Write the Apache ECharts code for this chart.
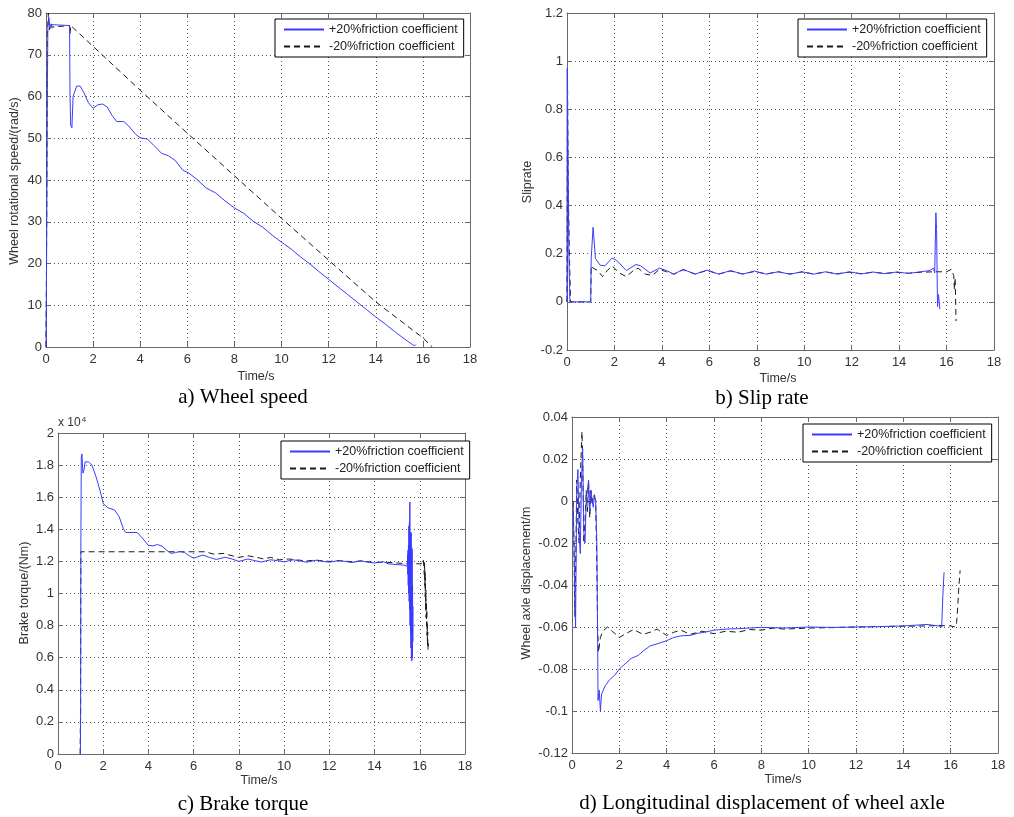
<!DOCTYPE html>
<html><head><meta charset="utf-8">
<script src="https://cdn.jsdelivr.net/npm/echarts@6/dist/echarts.min.js"></script>
<style>html,body{margin:0;padding:0;background:#fff}#c{width:1014px;height:817px}</style>
</head><body><div id="c"></div>
<script>
// ---------- data (time s, value) ----------
var legendNames = ['+20%friction coefficient', '-20%friction coefficient'];
var xTicks = [0, 2, 4, 6, 8, 10, 12, 14, 16, 18];

// a) Wheel speed (rad/s)
var speedPlus = [[0,0],[0.02,15],[0.05,55],[0.08,77],[0.12,79],[0.15,77],[0.2,76.3],[0.25,77.2],[0.3,77],[1.0,77],[1.02,60],[1.05,53],[1.1,52.5],[1.15,60],[1.3,62.5],[1.45,62.5],[1.6,61],[1.8,58.5],[2.0,57.2],[2.2,58],[2.4,58.2],[2.6,57.5],[2.8,55.5],[3.0,54],[3.3,54],[3.5,53],[3.8,51],[4.0,50.1],[4.3,49.8],[4.6,48.2],[4.9,46.4],[5.2,45.8],[5.5,44.6],[5.8,42.4],[6.1,41.5],[6.4,40.2],[6.8,38.1],[7.2,36.9],[7.6,35],[8.0,33.3],[8.4,32],[8.8,30.1],[9.2,28.7],[9.6,26.8],[10.0,25.1],[10.4,23.5],[10.8,21.6],[11.2,19.9],[11.6,18],[12.0,16.2],[12.4,14.4],[12.8,12.6],[13.2,10.8],[13.6,9],[14.0,7.2],[14.4,5.5],[14.8,3.7],[15.2,2],[15.55,0.6],[15.6,1],[15.65,0.3],[15.7,0.6]];
var speedMinus = [[0,0],[0.03,30],[0.06,75],[0.1,80],[0.14,76],[0.2,77.8],[0.25,76.6],[0.3,77],[1.0,77],[1.02,75],[1.05,77],[2,72],[4,61.5],[6,51.2],[8,41],[10,30.8],[12,20.8],[14,10.8],[16,2.2],[16.4,0]];

// b) Slip rate
var slipPlus = [[0,0],[0.01,0.97],[0.04,0.62],[0.08,0.2],[0.12,0],[1.0,0],[1.02,0.18],[1.1,0.31],[1.2,0.18],[1.4,0.152],[1.6,0.15],[1.9,0.182],[2.1,0.172],[2.5,0.13],[2.9,0.155],[3.1,0.15],[3.5,0.12],[3.9,0.14],[4.2,0.13],[4.5,0.115],[4.9,0.135],[5.4,0.115],[5.9,0.132],[6.4,0.115],[6.9,0.13],[7.4,0.115],[7.9,0.128],[8.4,0.115],[8.9,0.125],[9.4,0.115],[9.9,0.125],[10.4,0.115],[10.9,0.125],[11.4,0.115],[11.9,0.125],[12.4,0.116],[12.9,0.124],[13.4,0.117],[13.9,0.124],[14.4,0.118],[14.9,0.125],[15.3,0.13],[15.45,0.14],[15.5,0.12],[15.55,0.37],[15.58,0.3],[15.62,-0.02],[15.66,0.03],[15.72,-0.03]];
var slipMinus = [[0,0],[0.02,0.96],[0.05,0.5],[0.1,0.2],[0.15,0],[1.0,0],[1.02,0.15],[1.1,0.14],[1.3,0.13],[1.5,0.105],[1.7,0.13],[1.9,0.15],[2.2,0.12],[2.5,0.105],[2.8,0.13],[3.0,0.14],[3.3,0.115],[3.6,0.11],[3.9,0.135],[4.2,0.125],[4.5,0.115],[4.9,0.133],[5.4,0.116],[5.9,0.13],[6.4,0.116],[6.9,0.128],[7.4,0.116],[7.9,0.126],[8.4,0.116],[8.9,0.125],[9.4,0.116],[9.9,0.124],[10.4,0.116],[10.9,0.124],[11.4,0.117],[11.9,0.123],[12.4,0.117],[12.9,0.123],[13.4,0.118],[13.9,0.123],[14.4,0.119],[14.9,0.123],[15.5,0.125],[16.0,0.125],[16.2,0.135],[16.25,0.14],[16.3,0.11],[16.33,0.05],[16.36,0.1],[16.38,0.02],[16.4,-0.08]];

// c) Brake torque (x 10^4 Nm)
var torquePlus = [[0.99,0],[1.0,0.27],[1.01,1.25],[1.03,1.85],[1.06,1.87],[1.1,1.75],[1.15,1.77],[1.2,1.82],[1.35,1.82],[1.5,1.8],[1.7,1.72],[1.9,1.62],[2.0,1.56],[2.2,1.535],[2.5,1.52],[2.7,1.48],[2.9,1.4],[3.0,1.38],[3.5,1.38],[3.7,1.35],[4.0,1.3],[4.2,1.297],[4.4,1.305],[4.6,1.295],[4.8,1.27],[5.0,1.25],[5.2,1.255],[5.4,1.262],[5.6,1.255],[5.8,1.235],[6.0,1.22],[6.4,1.24],[6.7,1.225],[7.0,1.212],[7.4,1.226],[7.7,1.215],[8.0,1.2],[8.4,1.215],[8.7,1.205],[9.0,1.196],[9.4,1.21],[9.7,1.205],[10.0,1.197],[10.4,1.21],[10.7,1.203],[11.0,1.195],[11.4,1.207],[11.7,1.2],[12.0,1.195],[12.4,1.205],[12.7,1.2],[13.0,1.193],[13.4,1.203],[13.7,1.195],[14.0,1.19],[14.4,1.198],[14.6,1.185],[15.0,1.18],[15.3,1.177],[15.45,1.17],[15.46,1.24],[15.47,1.12],[15.48,1.27],[15.49,1.05],[15.5,1.3],[15.51,1.0],[15.52,1.42],[15.53,0.95],[15.54,1.44],[15.55,0.9],[15.56,1.57],[15.57,0.8],[15.58,1.38],[15.59,0.75],[15.6,1.3],[15.61,0.66],[15.62,1.38],[15.63,0.6],[15.64,1.25],[15.65,0.58],[15.66,1.28],[15.67,0.6],[15.68,1.05],[15.69,0.7],[15.7,0.92]];
var torqueMinus = [[0.98,0],[0.99,0.2],[1.0,0.25],[1.01,1.26],[1.05,1.26],[6.5,1.26],[6.9,1.245],[7.3,1.25],[7.7,1.235],[8.0,1.225],[8.4,1.235],[8.8,1.225],[9.1,1.215],[9.4,1.225],[9.8,1.21],[10.2,1.215],[10.5,1.21],[11.0,1.203],[11.4,1.208],[12.0,1.2],[12.4,1.205],[13.0,1.198],[13.4,1.203],[14.0,1.193],[14.5,1.195],[15.0,1.19],[15.5,1.185],[16.0,1.185],[16.12,1.19],[16.16,1.21],[16.19,1.22],[16.2,1.12],[16.21,1.2],[16.22,1.05],[16.23,1.15],[16.24,0.98],[16.25,1.1],[16.26,0.9],[16.27,1.02],[16.28,0.85],[16.29,0.95],[16.3,0.8],[16.31,0.9],[16.32,0.74],[16.33,0.82],[16.34,0.68],[16.35,0.76],[16.36,0.65],[16.37,0.7],[16.38,0.67]];

// d) Longitudinal displacement of wheel axle (m)
var dispPlus = [[0.05,-0.001],[0.1,-0.03],[0.15,-0.06],[0.2,0.005],[0.25,0.015],[0.3,-0.015],[0.35,-0.025],[0.4,0.01],[0.45,0.025],[0.5,-0.015],[0.55,-0.02],[0.6,0.0],[0.7,0.01],[0.75,-0.005],[0.8,0.005],[0.85,0.0],[0.9,-0.003],[0.95,0.003],[1.0,0.0],[1.05,-0.02],[1.08,-0.06],[1.1,-0.095],[1.15,-0.09],[1.2,-0.1],[1.25,-0.092],[1.4,-0.088],[1.6,-0.085],[1.8,-0.083],[2.0,-0.08],[2.3,-0.077],[2.5,-0.075],[2.8,-0.0735],[3.0,-0.0715],[3.3,-0.069],[3.6,-0.068],[4.0,-0.0665],[4.3,-0.065],[4.6,-0.0642],[5.0,-0.064],[5.3,-0.063],[5.6,-0.0625],[6.0,-0.0615],[6.5,-0.061],[7.0,-0.0608],[7.5,-0.0605],[8.0,-0.0602],[9.0,-0.0605],[10.0,-0.06],[11.0,-0.0602],[12.0,-0.06],[13.0,-0.0598],[14.0,-0.0595],[15.0,-0.0588],[15.5,-0.0595],[15.62,-0.06],[15.67,-0.045],[15.72,-0.034]];
var dispMinus = [[0.05,0],[0.08,-0.02],[0.12,-0.055],[0.17,-0.02],[0.2,0.01],[0.25,-0.01],[0.3,-0.02],[0.35,0.01],[0.42,0.033],[0.45,0.02],[0.5,-0.02],[0.55,-0.01],[0.6,0.005],[0.65,-0.005],[0.7,0.009],[0.75,-0.008],[0.8,0.005],[0.85,-0.002],[0.9,0.003],[1.0,0.0],[1.05,-0.03],[1.08,-0.06],[1.12,-0.072],[1.2,-0.065],[1.3,-0.062],[1.5,-0.06],[1.7,-0.062],[2.0,-0.065],[2.3,-0.063],[2.6,-0.0612],[3.0,-0.0635],[3.3,-0.0625],[3.6,-0.061],[4.0,-0.064],[4.3,-0.0625],[4.6,-0.0615],[5.0,-0.0635],[5.5,-0.062],[6.0,-0.0632],[6.5,-0.062],[7.0,-0.0625],[7.5,-0.0612],[8.0,-0.0615],[8.5,-0.0605],[9.0,-0.061],[10.0,-0.0605],[11.0,-0.0603],[12.0,-0.06],[13.0,-0.0598],[14.0,-0.0596],[15.0,-0.0595],[15.5,-0.0593],[16.0,-0.0595],[16.2,-0.06],[16.25,-0.058],[16.3,-0.05],[16.35,-0.04],[16.4,-0.033]];

// ---------- chart ----------
var chart = echarts.init(document.getElementById('c'), null, {renderer: 'canvas'});
var panels = [
  {grid:{left:46, top:13, width:424, height:334}, y:[0, 80, 10], plus:speedPlus, minus:speedMinus, legend:{left:275, top:19}},
  {grid:{left:567, top:13, width:427, height:337}, y:[-0.2, 1.2, 0.2], plus:slipPlus, minus:slipMinus, legend:{left:798, top:19}},
  {grid:{left:58, top:433, width:407, height:321}, y:[0, 2, 0.2], plus:torquePlus, minus:torqueMinus, legend:{left:281, top:441}},
  {grid:{left:572, top:417, width:426, height:336}, y:[-0.12, 0.04, 0.02], plus:dispPlus, minus:dispMinus, legend:{left:803, top:424}}
];
var frame = '#6a6a6a';
var gridLine = {show:true, lineStyle:{color:'#555', type:[1,3], width:1}};
var grids=[], xAxes=[], yAxes=[], series=[], legends=[];
panels.forEach(function(p, i){
  grids.push(p.grid);
  legends.push({orient:'vertical', left:p.legend.left, top:p.legend.top, data:legendNames,
    itemWidth:40, itemHeight:14, itemGap:4, padding:[4,6,4,8], borderColor:'#000', borderWidth:1,
    backgroundColor:'#fff', textStyle:{fontFamily:'Liberation Sans', fontSize:12.5, color:'#222'},
    itemStyle:{opacity:0, borderWidth:0}, selectedMode:false});
});
panels.forEach(function(p, i){
  xAxes.push({type:'value', gridIndex:i, min:0, max:18, interval:2, position:'bottom',
    axisLine:{show:true, onZero:false, lineStyle:{color:frame}}, axisTick:{show:true, inside:true, length:5, lineStyle:{color:frame}},
    axisLabel:{fontFamily:'Liberation Sans', fontSize:13, color:'#333', margin:6}, splitLine:gridLine});
  yAxes.push({type:'value', gridIndex:i, min:p.y[0], max:p.y[1], interval:p.y[2], position:'left',
    axisLine:{show:true, onZero:false, lineStyle:{color:frame}}, axisTick:{show:true, inside:true, length:5, lineStyle:{color:frame}},
    axisLabel:{fontFamily:'Liberation Sans', fontSize:13, color:'#333', margin:4}, splitLine:gridLine});
});
panels.forEach(function(p, i){
  xAxes.push({type:'value', gridIndex:i, min:0, max:18, interval:2, position:'top',
    axisLine:{show:true, onZero:false, lineStyle:{color:frame}}, axisTick:{show:true, inside:true, length:5, lineStyle:{color:frame}},
    axisLabel:{show:false}, splitLine:{show:false}});
  yAxes.push({type:'value', gridIndex:i, min:p.y[0], max:p.y[1], interval:p.y[2], position:'right',
    axisLine:{show:true, onZero:false, lineStyle:{color:frame}}, axisTick:{show:true, inside:true, length:5, lineStyle:{color:frame}},
    axisLabel:{show:false}, splitLine:{show:false}});
});
panels.forEach(function(p, i){
  series.push({name:legendNames[1], type:'line', xAxisIndex:i, yAxisIndex:i, data:p.minus, symbol:'none', showSymbol:false,
    lineStyle:{color:'#1a1a1a', width:1, type:[6,4]}, itemStyle:{color:'#1a1a1a'}, z:3});
  series.push({name:legendNames[0], type:'line', xAxisIndex:i, yAxisIndex:i, data:p.plus, symbol:'none', showSymbol:false,
    lineStyle:{color:'#3b3bff', width:1}, itemStyle:{color:'#3b3bff'}, z:4});
});
function txt(x, y, s, size, rot, font, color){
  return {type:'text', x:x, y:y, rotation:rot||0, z:10,
    style:{text:s, x:0, y:0, fill:color||'#333', font:size+'px '+(font||'"Liberation Sans"'), align:'center', verticalAlign:'middle'}};
}
var R = Math.PI/2;
var graphic = [
  txt(256, 377, 'Time/s', 12.5), txt(778, 379, 'Time/s', 12.5), txt(259, 781, 'Time/s', 12.5), txt(783, 780, 'Time/s', 12.5),
  txt(15, 181, 'Wheel rotational speed/(rad/s)', 12.5, R), txt(528, 182, 'Sliprate', 12.5, R),
  txt(25, 593, 'Brake torque/(Nm)', 12.5, R), txt(527, 583, 'Wheel axle displacement/m', 12.5, R),
  txt(243, 397, 'a) Wheel speed', 21, 0, '"Liberation Serif"', '#000'),
  txt(762, 398, 'b) Slip rate', 21, 0, '"Liberation Serif"', '#000'),
  txt(243, 804, 'c) Brake torque', 21, 0, '"Liberation Serif"', '#000'),
  txt(762, 803, 'd) Longitudinal displacement of wheel axle', 21, 0, '"Liberation Serif"', '#000'),
  {type:'text', x:58, y:416, z:10, style:{text:'{a|x 10}{b|4}', rich:{a:{fontFamily:'Liberation Sans', fontSize:12, fill:'#333', color:'#333'}, b:{fontFamily:'Liberation Sans', fontSize:8, fill:'#333', color:'#333', verticalAlign:'top', padding:[0,0,6,1]}}}}
];
chart.setOption({animation:false, backgroundColor:'#fff', grid:grids, xAxis:xAxes, yAxis:yAxes, legend:legends, series:series, graphic:graphic});
</script></body></html>
